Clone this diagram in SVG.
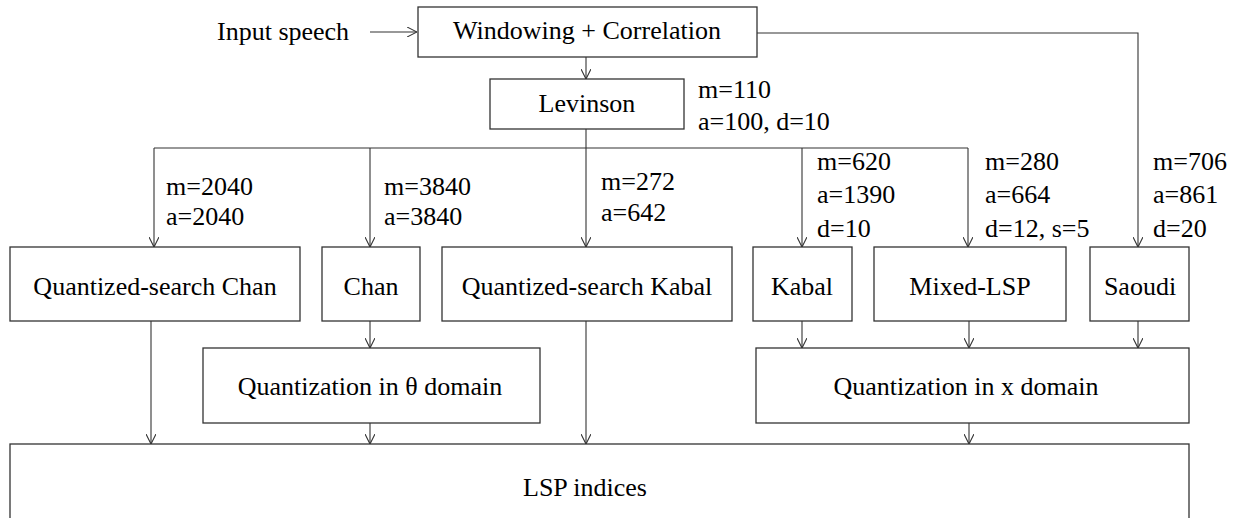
<svg xmlns="http://www.w3.org/2000/svg" width="1245" height="518" viewBox="0 0 1245 518" font-family="Liberation Serif, Times New Roman, serif">
<style>
text{font-family:"Liberation Serif",serif;font-size:26px;fill:#000}
.c{text-anchor:middle}
.box{fill:#fff;stroke:#333;stroke-width:1.3}
.ln{fill:none;stroke:#333;stroke-width:1.1}
</style>
<defs>
<marker id="ah" viewBox="0 0 10 10" refX="10" refY="5" markerWidth="10" markerHeight="10" markerUnits="userSpaceOnUse" orient="auto">
<path d="M0,0 L10,5 L0,10" fill="none" stroke="#333" stroke-width="1.1"/>
</marker>
</defs>
<rect width="1245" height="518" fill="#fff"/>
<g id="connectors">
<path class="ln" d="M370,32 H417" marker-end="url(#ah)"/>
<path class="ln" d="M586,57 V79" marker-end="url(#ah)"/>
<path class="ln" d="M586,129 V247" marker-end="url(#ah)"/>
<path class="ln" d="M154,148 H968"/>
<path class="ln" d="M154,148 V247" marker-end="url(#ah)"/>
<path class="ln" d="M370,148 V247" marker-end="url(#ah)"/>
<path class="ln" d="M802,148 V247" marker-end="url(#ah)"/>
<path class="ln" d="M968,148 V247" marker-end="url(#ah)"/>
<path class="ln" d="M757,33 H1138 V247" marker-end="url(#ah)"/>
<path class="ln" d="M370,321 V348" marker-end="url(#ah)"/>
<path class="ln" d="M802,321 V348" marker-end="url(#ah)"/>
<path class="ln" d="M969,321 V348" marker-end="url(#ah)"/>
<path class="ln" d="M1138,321 V348" marker-end="url(#ah)"/>
<path class="ln" d="M151,321 V444" marker-end="url(#ah)"/>
<path class="ln" d="M586,321 V444" marker-end="url(#ah)"/>
<path class="ln" d="M370,423 V444" marker-end="url(#ah)"/>
<path class="ln" d="M969,423 V444" marker-end="url(#ah)"/>
</g>
<g id="labels" font-family="Liberation Serif, serif">
<text x="217" y="40">Input speech</text>
<text x="698" y="98">m=110</text>
<text x="698" y="130">a=100, d=10</text>
<text x="166" y="195">m=2040</text>
<text x="166" y="225">a=2040</text>
<text x="384" y="195">m=3840</text>
<text x="384" y="225">a=3840</text>
<text x="601" y="190">m=272</text>
<text x="601" y="221">a=642</text>
<text x="817" y="170">m=620</text>
<text x="817" y="203">a=1390</text>
<text x="817" y="237">d=10</text>
<text x="985" y="170">m=280</text>
<text x="985" y="203">a=664</text>
<text x="985" y="237">d=12, s=5</text>
<text x="1153" y="170">m=706</text>
<text x="1153" y="203">a=861</text>
<text x="1153" y="237">d=20</text>
</g>
<g id="windowing"><rect class="box" x="418" y="7" width="339" height="50"/><text class="c" x="587" y="39">Windowing + Correlation</text></g>
<g id="levinson"><rect class="box" x="490" y="79" width="194" height="50"/><text class="c" x="587" y="112">Levinson</text></g>
<g id="qs-chan"><rect class="box" x="10" y="247" width="290" height="74"/><text class="c" x="155" y="295">Quantized-search Chan</text></g>
<g id="chan"><rect class="box" x="322" y="247" width="98" height="74"/><text class="c" x="371" y="295">Chan</text></g>
<g id="qs-kabal"><rect class="box" x="442" y="247" width="290" height="74"/><text class="c" x="587" y="295">Quantized-search Kabal</text></g>
<g id="kabal"><rect class="box" x="753" y="247" width="99" height="74"/><text class="c" x="802" y="295">Kabal</text></g>
<g id="mixed-lsp"><rect class="box" x="874" y="247" width="192" height="74"/><text class="c" x="970" y="295">Mixed-LSP</text></g>
<g id="saoudi"><rect class="box" x="1090" y="247" width="99" height="74"/><text class="c" x="1140" y="295">Saoudi</text></g>
<g id="quant-theta"><rect class="box" x="203" y="348" width="337" height="75"/><text class="c" x="370" y="395">Quantization in θ domain</text></g>
<g id="quant-x"><rect class="box" x="756" y="348" width="433" height="75"/><text class="c" x="966" y="395">Quantization in x domain</text></g>
<g id="lsp-indices"><rect class="box" x="10" y="444" width="1179" height="90"/><text class="c" x="585" y="496">LSP indices</text></g>
</svg>
